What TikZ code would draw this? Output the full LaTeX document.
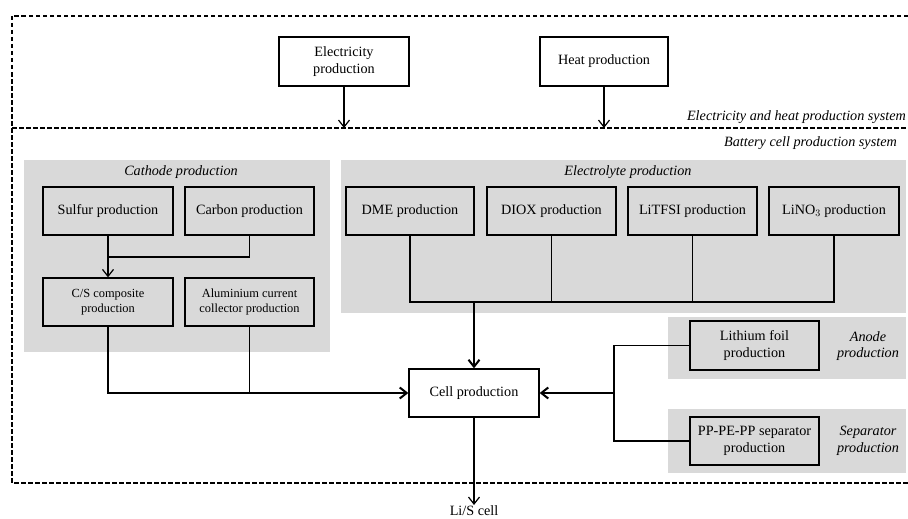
\documentclass[tikz,border=0pt]{standalone}
\usepackage{fontspec}
\setmainfont{Liberation Serif}
\usetikzlibrary{arrows.meta,calc}
\definecolor{panelgray}{HTML}{D9D9D9}
\tikzset{
  procbox/.style={draw=black, line width=1.3pt, inner sep=0pt, align=center,
    font=\fontsize{14.2}{16.7}\selectfont},
  smallbox/.style={procbox, font=\fontsize{12.4}{15}\selectfont},
  panel/.style={fill=panelgray, draw=none},
  panellabel/.style={font=\fontsize{14.2}{16.7}\selectfont\itshape, inner sep=0pt, align=center},
  syslabel/.style={font=\fontsize{14.2}{16.7}\selectfont\itshape, inner sep=0pt},
  sysline/.style={line width=1.6pt, dash pattern=on 4.5pt off 2.5pt},
  thinline/.style={line width=1.2pt},
  trunk/.style={line width=2pt},
  arr/.style={-{Straight Barb[length=7pt,width=11pt]}}
}
\begin{document}
\begin{tikzpicture}[x=1pt,y=-1pt]
\useasboundingbox (0,0) rectangle (908,519);
% panels
\fill[panel] (24,160) rectangle (330,352);
\fill[panel] (341,160) rectangle (906,313);
\fill[panel] (668,317) rectangle (906,379);
\fill[panel] (668,409) rectangle (906,473);
% system boundaries
\coordinate (tl) at (12,16);
\coordinate (ml) at (12,128);
\coordinate (bl) at (12,483);
\draw[sysline] (908,16) -- (tl) -- (bl) -- (908,483);
\draw[sysline] (ml) -- (908,128);
\node[syslabel, anchor=east] (sys1) at (906,117) {Electricity and heat production system};
\node[syslabel, anchor=east] (sys2) at (897,143) {Battery cell production system};
% panel labels
\node[panellabel] (catl) at (181,172) {Cathode production};
\node[panellabel] (elel) at (628,172) {Electrolyte production};
\node[panellabel] (anl) at (868,346) {Anode\\production};
\node[panellabel] (sepl) at (868,441) {Separator\\production};
% boxes
\node[procbox, fill=white, minimum width=130pt, minimum height=49pt] (elec) at (344,61.5) {Electricity\\production};
\node[procbox, fill=white, minimum width=128pt, minimum height=49pt] (heat) at (604,61.5) {Heat production};
\node[procbox, minimum width=130pt, minimum height=48pt] (sulfur) at (108,211) {Sulfur production};
\node[procbox, minimum width=129pt, minimum height=48pt] (carbon) at (249.5,211) {Carbon production};
\node[smallbox, minimum width=130pt, minimum height=48pt] (cs) at (108,302) {C/S composite\\production};
\node[smallbox, minimum width=129pt, minimum height=48pt] (alu) at (249.5,302) {Aluminium current\\collector production};
\node[procbox, minimum width=128pt, minimum height=48pt] (dme) at (410,211) {DME production};
\node[procbox, minimum width=129pt, minimum height=48pt] (diox) at (551.5,211) {DIOX production};
\node[procbox, minimum width=129pt, minimum height=48pt] (litfsi) at (692.5,211) {LiTFSI production};
\node[procbox, minimum width=130pt, minimum height=48pt] (lino3) at (834,211) {LiNO$_3$ production};
\node[procbox, fill=white, minimum width=130pt, minimum height=48pt] (cell) at (474,393) {Cell production};
\node[procbox, minimum width=129pt, minimum height=49pt] (li) at (754.5,345.5) {Lithium foil\\production};
\node[procbox, minimum width=129pt, minimum height=48pt] (sep) at (754.5,441) {PP-PE-PP separator\\production};
\node[font=\fontsize{14.2}{16.7}\selectfont, inner sep=0pt, anchor=north] (lis) at (474,505) {Li/S cell};
% energy connectors
\draw[thinline, arr] (elec.south) -- (elec.south |- ml);
\draw[thinline, arr] (heat.south) -- (heat.south |- ml);
% cathode connectors
\coordinate (cj) at (108,257);
\draw[thinline] (carbon.south) |- (cj);
\draw[thinline, arr] (sulfur.south) -- (cs.north);
\coordinate (aj) at (249.5,393);
\draw[thinline] (cs.south) |- (aj);
\draw[thinline] (alu.south) -- (aj);
\draw[trunk, arr] (aj) -- (cell.west);
% electrolyte connectors
\coordinate (bus) at (474,302);
\draw[thinline] (dme.south) |- (bus) -| (lino3.south);
\draw[thinline] (diox.south) -- (diox.south |- bus);
\draw[thinline] (litfsi.south) -- (litfsi.south |- bus);
\draw[trunk, arr] (bus) -- (cell.north);
% anode / separator connectors
\coordinate (rj) at (614,393);
\draw[thinline] (li.west) -| (rj) |- (sep.west);
\draw[trunk, arr] (rj) -- (cell.east);
% output
\draw[thinline, arr] (cell.south) -- (lis.north);
\end{tikzpicture}
\end{document}
